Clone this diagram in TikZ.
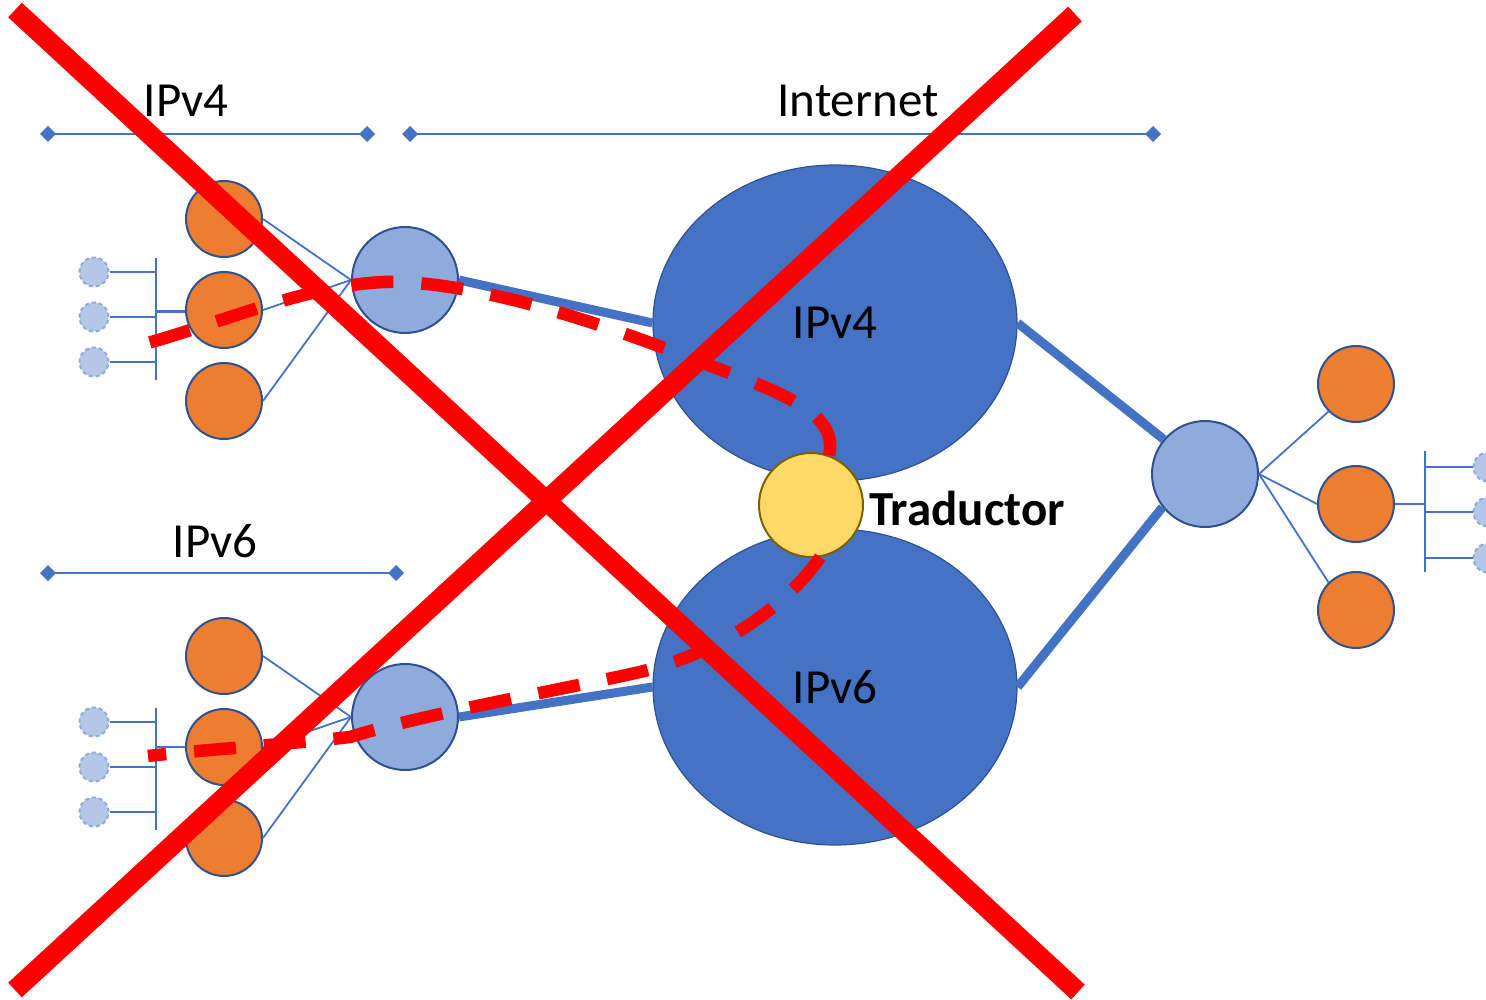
\documentclass[tikz,border=0pt]{standalone}
\usepackage{fontspec}
\setmainfont{Carlito}
\usetikzlibrary{shapes.geometric,arrows.meta}
\definecolor{blu}{HTML}{4472C4}
\definecolor{dblu}{HTML}{2F528F}
\definecolor{lblu}{HTML}{8FAADC}
\definecolor{llblu}{HTML}{B4C7E7}
\definecolor{orng}{HTML}{ED7D31}
\definecolor{ylw}{HTML}{FFD966}
\definecolor{dylw}{HTML}{7F6000}
\tikzset{
  host/.style={circle,draw=dblu,fill=orng,line width=2pt,minimum size=76pt,inner sep=0pt},
  router/.style={circle,draw=dblu,fill=lblu,line width=2pt,minimum size=106pt,inner sep=0pt},
  cloud/.style={ellipse,draw=dblu,fill=blu,line width=1.2pt,minimum width=364pt,minimum height=316pt,inner sep=0pt,font=\fontsize{49}{56}\selectfont},
  term/.style={circle,draw=lblu,fill=llblu,dashed,dash pattern=on 4pt off 3pt,line width=2pt,minimum size=29pt,inner sep=0pt},
  thin/.style={draw=blu,line width=1.8pt},
  thick/.style={draw=blu,line width=9pt},
  bus/.style={draw=blu,line width=2.5pt},
  dim/.style={draw=blu,line width=1.5pt,{Diamond[length=16pt,width=16pt]}-{Diamond[length=16pt,width=16pt]}},
  lbl/.style={font=\fontsize{49}{56}\selectfont,inner sep=0pt},
  redpath/.style={draw=red,line width=12.5pt,dash pattern=on 42pt off 28pt},
  cross/.style={draw=red,line width=20pt},
}
\begin{document}
\begin{tikzpicture}[x=1pt,y=-1pt]
\useasboundingbox (0,0) rectangle (1486,1000);
% dimension lines
\coordinate (d1a) at (40,134); \coordinate (d1b) at (375,134);
\coordinate (d2a) at (402,134); \coordinate (d2b) at (1161,134);
\coordinate (d3a) at (40,573); \coordinate (d3b) at (404,573);
\draw[dim] (d1a) -- (d1b);
\draw[dim] (d2a) -- (d2b);
\draw[dim] (d3a) -- (d3b);
\node[lbl] (l4) at (186,101) {IPv4};
\node[lbl] (lint) at (858,101) {Internet};
\node[lbl] (l6) at (215,541) {IPv6};
% clouds
\node[cloud] (c4) at (835,323) {IPv4};
\node[cloud] (c6) at (835,687) {IPv6};
% routers
\node[router] (r1) at (405,280) {};
\node[router] (r2) at (405,717) {};
\node[router] (r3) at (1205,474) {};
% thick links
\draw[thick] (r1.east) -- (c4.west);
\draw[thick] (r2.east) -- (c6.west);
\draw[thick] (c4.east) -- (r3.140);
\draw[thick] (c6.east) -- (r3.218);
% hosts
\node[host] (h1) at (224,219) {};
\node[host] (h2) at (224,310) {};
\node[host] (h3) at (224,401) {};
\node[host] (h4) at (224,656) {};
\node[host] (h5) at (224,747) {};
\node[host] (h6) at (224,838) {};
\node[host] (h7) at (1356,384) {};
\node[host] (h8) at (1356,504) {};
\node[host] (h9) at (1356,610) {};
\draw[thin] (h1.east) -- (r1.west);
\draw[thin] (h2.east) -- (r1.west);
\draw[thin] (h3.east) -- (r1.west);
\draw[thin] (h4.east) -- (r2.west);
\draw[thin] (h5.east) -- (r2.west);
\draw[thin] (h6.east) -- (r2.west);
\draw[thin] (r3.east) -- (h7.225);
\draw[thin] (r3.east) -- (h8.west);
\draw[thin] (r3.east) -- (h9.135);
% terminals left top
\node[term] (t1) at (94,272) {};
\node[term] (t2) at (94,317) {};
\node[term] (t3) at (94,362) {};
\coordinate (b1a) at (156,258); \coordinate (b1b) at (156,380);
\draw[bus] (b1a) -- (b1b);
\draw[bus] (t1.east) -- (t1.east -| b1a);
\draw[bus] (t2.east) -- (t2.east -| b1a);
\draw[bus] (t3.east) -- (t3.east -| b1a);
\draw[bus] (b1a |- h2.182) -- (h2.182);
% terminals left bottom
\node[term] (t4) at (94,722) {};
\node[term] (t5) at (94,767) {};
\node[term] (t6) at (94,812) {};
\coordinate (b2a) at (156,708); \coordinate (b2b) at (156,830);
\draw[bus] (b2a) -- (b2b);
\draw[bus] (t4.east) -- (t4.east -| b2a);
\draw[bus] (t5.east) -- (t5.east -| b2a);
\draw[bus] (t6.east) -- (t6.east -| b2a);
\draw[bus] (b2a |- h5.west) -- (h5.west);
% terminals right
\node[term] (t7) at (1488,467) {};
\node[term] (t8) at (1488,512) {};
\node[term] (t9) at (1488,558) {};
\coordinate (b3a) at (1425,451); \coordinate (b3b) at (1425,572);
\draw[bus] (b3a) -- (b3b);
\draw[bus] (t7.west) -- (t7.west -| b3a);
\draw[bus] (t8.west) -- (t8.west -| b3a);
\draw[bus] (t9.west) -- (t9.west -| b3a);
\draw[bus] (h8.east) -- (h8.east -| b3a);
% translator
\node[circle,draw=dylw,fill=ylw,line width=2pt,minimum size=104pt,inner sep=0pt] (tr) at (811,505) {};
\node[lbl,font=\fontsize{49}{56}\selectfont\bfseries,anchor=west] (trl) at (869,508) {Traductor};
% red dashed paths
\coordinate (p0) at (124,349);
\coordinate (p1) at (148,756);
\draw[redpath] (tr.70) .. controls (838,415) and (790,395) .. (700,362)
  .. controls (620,330) and (480,280) .. (385,282)
  .. controls (300,285) and (200,332) .. (p0);
\draw[redpath] (tr.-80) .. controls (790,600) and (730,650) .. (640,672)
  .. controls (560,690) and (420,715) .. (350,737)
  .. controls (280,745) and (200,750) .. (p1);
% cross
\coordinate (x1a) at (15,10); \coordinate (x1b) at (1078,992);
\coordinate (x2a) at (1075,14); \coordinate (x2b) at (15,990);
\draw[cross] (x1a) -- (x1b);
\draw[cross] (x2a) -- (x2b);
\end{tikzpicture}
\end{document}
